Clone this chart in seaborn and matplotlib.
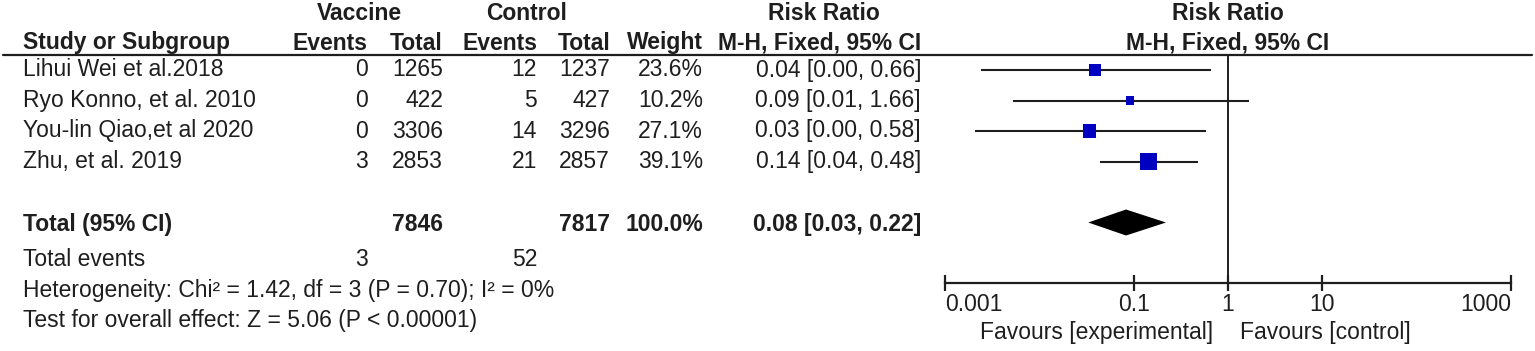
import numpy as np
import pandas as pd
import seaborn as sns
import matplotlib.pyplot as plt

# study-level data
studies = ["Lihui Wei et al.2018", "Ryo Konno, et al. 2010",
           "You-lin Qiao,et al 2020", "Zhu, et al. 2019"]
vac_events = [0, 0, 0, 3]
vac_total = [1265, 422, 3306, 2853]
ctl_events = [12, 5, 14, 21]
ctl_total = [1237, 427, 3296, 2857]
weights = [23.6, 10.2, 27.1, 39.1]
rr = [0.039, 0.092, 0.034, 0.143]
rr_lo = [0.0024, 0.0052, 0.0021, 0.044]
rr_hi = [0.66, 1.66, 0.58, 0.48]

# pooled
tot_vac, tot_ctl = 7846, 7817
tot_ev_vac, tot_ev_ctl = 3, 52
pooled = [0.083, 0.033, 0.22]
het_text = "Heterogeneity: Chi\u00b2 = 1.42, df = 3 (P = 0.70); I\u00b2 = 0%"
test_text = "Test for overall effect: Z = 5.06 (P < 0.00001)"
ticks = [0.001, 0.1, 1, 10, 1000]
tick_labels = ["0.001", "0.1", "1", "10", "1000"]

sns.set_theme(style="white")
plt.rcParams['font.family'] = ['Liberation Sans', 'DejaVu Sans']
FS = 16.5
TC = '#1e1e1e'

W, H = 1535, 351
fig = plt.figure(figsize=(W / 100, H / 100), dpi=100)
fig.patch.set_facecolor('white')

# table layer in pixel coords
tab = fig.add_axes([0, 0, 1, 1])
tab.set_xlim(0, W)
tab.set_ylim(H, 0)
tab.axis('off')

row0, step = 70, 30.5
line_y = 55
axis_y = 283


def row_px(r):
    return row0 + step * r


def txt(x, y, s, ha='left', bold=False):
    tab.text(x, y, s, ha=ha, va='center', fontsize=FS, color=TC,
             fontweight='bold' if bold else 'normal')


# headers
txt(359, 13, "Vaccine", 'center', True)
txt(527, 13, "Control", 'center', True)
txt(824, 13, "Risk Ratio", 'center', True)
txt(1228, 13, "Risk Ratio", 'center', True)
hy = 43
txt(23, hy, "Study or Subgroup", bold=True)
txt(368, hy, "Events", 'right', True)
txt(443, hy, "Total", 'right', True)
txt(537, hy, "Events", 'right', True)
txt(610, hy, "Total", 'right', True)
txt(703, hy, "Weight", 'right', True)
txt(921, hy, "M-H, Fixed, 95% CI", 'right', True)
txt(1228, hy, "M-H, Fixed, 95% CI", 'center', True)
tab.plot([3, 1532], [line_y, line_y], color='#1e1e1e', lw=1.6)

for i, name in enumerate(studies):
    y = row_px(i)
    txt(23, y, name)
    txt(368, y, str(vac_events[i]), 'right')
    txt(443, y, str(vac_total[i]), 'right')
    txt(537, y, str(ctl_events[i]), 'right')
    txt(610, y, str(ctl_total[i]), 'right')
    txt(703, y, f"{weights[i]:.1f}%", 'right')
    txt(921, y, f"{rr[i]:.2f} [{rr_lo[i]:.2f}, {rr_hi[i]:.2f}]", 'right')

yt = row_px(5) + 2
txt(23, yt, "Total (95% CI)", bold=True)
txt(443, yt, str(tot_vac), 'right', True)
txt(610, yt, str(tot_ctl), 'right', True)
txt(703, yt, f"{sum(weights):.1f}%", 'right', True)
txt(921, yt, f"{pooled[0]:.2f} [{pooled[1]:.2f}, {pooled[2]:.2f}]", 'right', True)
txt(23, 260, "Total events")
txt(368, 260, str(tot_ev_vac), 'right')
txt(537, 260, str(tot_ev_ctl), 'right')
txt(23, 291, het_text)
txt(23, 321, test_text)
txt(1213, 332, "Favours [experimental]", 'right')
txt(1240, 332, "Favours [control]", 'left')

# forest panel
x0, x1 = 945, 1511
fax = fig.add_axes([x0 / W, (H - axis_y) / H, (x1 - x0) / W, (axis_y - line_y) / H])
fax.set_xscale('log')
fax.set_xlim(ticks[0], ticks[-1])
fax.set_ylim((axis_y - row0) / step, -(row0 - line_y) / step)
fax.patch.set_alpha(0)
for s in ['top', 'left', 'right']:
    fax.spines[s].set_visible(False)
fax.spines['bottom'].set_color('#1e1e1e')
fax.spines['bottom'].set_linewidth(1.6)
fax.set_yticks([])
fax.set_xticks(ticks)
fax.set_xticklabels(tick_labels)
fax.minorticks_off()
fax.tick_params(axis='x', direction='inout', length=12, width=1.6,
                color='#1e1e1e', labelsize=FS, labelcolor=TC, pad=1, bottom=True)
lbls = fax.get_xticklabels()
lbls[0].set_ha('left')
lbls[-1].set_ha('right')

fax.axvline(1, color='#1e1e1e', lw=1.4)
rows = np.arange(len(studies))
fax.hlines(rows, rr_lo, rr_hi, color='#1e1e1e', lw=1.5, zorder=2)

df = pd.DataFrame({'rr': rr, 'row': rows, 'w': weights})
sns.scatterplot(data=df, x='rr', y='row', size='w', sizes=(3.6 * min(weights), 3.6 * max(weights)),
                size_norm=(min(weights), max(weights)), marker='s', color='#0000c0',
                linewidth=0, legend=False, ax=fax, zorder=3)
fax.set_xlabel('')
fax.set_ylabel('')

hh = 13 / step
fax.fill([pooled[1], pooled[0], pooled[2], pooled[0]], [5, 5 - hh, 5, 5 + hh],
         color='black', lw=0, zorder=3)

fig.savefig('out.png', dpi=100, facecolor='white')
